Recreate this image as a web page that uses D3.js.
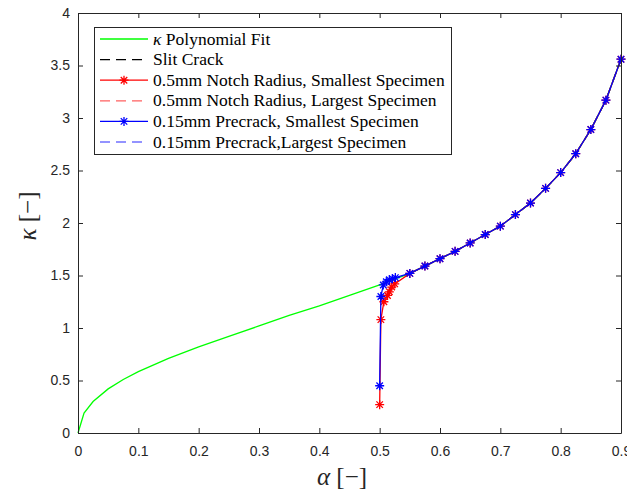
<!DOCTYPE html>
<html>
<head>
<meta charset="utf-8">
<script src="https://cdn.jsdelivr.net/npm/d3@7"></script>
<style>
  body { margin: 0; background: #fff; }
  svg { display: block; }
</style>
</head>
<body>
<div id="chart"></div>
<script>
  // polynomial fit of kappa over alpha
  const fitAlpha = [0, 0.01, 0.025, 0.05, 0.075, 0.1, 0.15, 0.2, 0.25, 0.3, 0.35, 0.4, 0.45, 0.5,
    0.55, 0.575, 0.6, 0.625, 0.65, 0.675, 0.7, 0.725, 0.75, 0.775, 0.8, 0.825, 0.85, 0.875, 0.9];
  const fitKappa = [0, 0.19, 0.30, 0.42, 0.51, 0.585, 0.71, 0.82, 0.92, 1.02, 1.12, 1.21, 1.31, 1.41,
    1.52, 1.59, 1.66, 1.73, 1.81, 1.89, 1.97, 2.08, 2.19, 2.33, 2.48, 2.66, 2.89, 3.17, 3.56];

  // slit crack and the largest specimens sit on the same curve
  const tailAlpha = [0.55, 0.575, 0.6, 0.625, 0.65, 0.675, 0.7, 0.725, 0.75, 0.775, 0.8, 0.825, 0.85, 0.875, 0.9];
  const tailKappa = [1.52, 1.59, 1.66, 1.73, 1.81, 1.89, 1.97, 2.08, 2.19, 2.33, 2.48, 2.66, 2.89, 3.17, 3.56];

  const notchAlpha = [0.5, 0.502, 0.507, 0.513, 0.516, 0.52, 0.525].concat(tailAlpha);
  const notchKappa = [0.27, 1.08, 1.25, 1.31, 1.345, 1.39, 1.42].concat(tailKappa);

  const precrackAlpha = [0.5, 0.502, 0.506, 0.511, 0.516, 0.521, 0.526].concat(tailAlpha);
  const precrackKappa = [0.45, 1.30, 1.41, 1.44, 1.46, 1.47, 1.48].concat(tailKappa);

  const xTicks = [0, 0.1, 0.2, 0.3, 0.4, 0.5, 0.6, 0.7, 0.8, 0.9];
  const yTicks = [0, 0.5, 1, 1.5, 2, 2.5, 3, 3.5, 4];

  const series = [
    {name: 'Slit Crack', a: tailAlpha, k: tailKappa, color: '#000000', dash: '10,6', marker: false},
    {name: '0.5mm Notch Radius, Largest Specimen', a: tailAlpha, k: tailKappa, color: '#ff6060', dash: '10,6', marker: false},
    {name: '0.15mm Precrack,Largest Specimen', a: tailAlpha, k: tailKappa, color: '#7070ff', dash: '10,6', marker: false},
    {name: 'fit', a: fitAlpha, k: fitKappa, color: '#00ff00', dash: null, marker: false},
    {name: '0.5mm Notch Radius, Smallest Specimen', a: notchAlpha, k: notchKappa, color: '#ff0000', dash: null, marker: true},
    {name: '0.15mm Precrack, Smallest Specimen', a: precrackAlpha, k: precrackKappa, color: '#0000ff', dash: null, marker: true},
  ];

  const legendRows = [
    {label: 'Polynomial Fit', kappa: true, color: '#00ff00', dash: null, marker: false},
    {label: 'Slit Crack', color: '#000000', dash: '10,6', marker: false},
    {label: '0.5mm Notch Radius, Smallest Specimen', color: '#ff0000', dash: null, marker: true},
    {label: '0.5mm Notch Radius, Largest Specimen', color: '#ff6060', dash: '10,6', marker: false},
    {label: '0.15mm Precrack, Smallest Specimen', color: '#0000ff', dash: null, marker: true},
    {label: '0.15mm Precrack,Largest Specimen', color: '#7070ff', dash: '10,6', marker: false},
  ];

  const width = 627, height = 493;
  const margins = {top: 13, right: 6, bottom: 60, left: 78};
  const axisColor = '#262626';

  const svg = d3.select('#chart')
    .append('svg')
      .attr('width', width)
      .attr('height', height);

  const xScale = d3.scaleLinear()
    .domain([0, 0.9])
    .range([margins.left, width - margins.right]);

  const yScale = d3.scaleLinear()
    .domain([0, 4])
    .range([height - margins.bottom, margins.top]);

  // matlab style '*' marker
  const star = (cx, cy, r) => {
    const d = r * 0.72;
    return `M${cx - r},${cy}H${cx + r}M${cx},${cy - r}V${cy + r}` +
      `M${cx - d},${cy - d}L${cx + d},${cy + d}M${cx - d},${cy + d}L${cx + d},${cy - d}`;
  };

  const line = d3.line()
    .x(d => xScale(d[0]))
    .y(d => yScale(d[1]));

  const plot = svg.append('g').attr('class', 'lines');

  series.forEach(s => {
    const pts = s.a.map((a, i) => [a, s.k[i]]);
    plot.append('path')
      .datum(pts)
      .attr('d', line)
      .attr('fill', 'none')
      .attr('stroke', s.color)
      .attr('stroke-width', 1.3)
      .attr('stroke-dasharray', s.dash);
    if (s.marker) {
      plot.append('g')
        .selectAll('path')
        .data(pts)
        .join('path')
          .attr('d', d => star(xScale(d[0]), yScale(d[1]), 4.5))
          .attr('fill', 'none')
          .attr('stroke', s.color)
          .attr('stroke-width', 1.3);
    }
  });

  /* axes with inner ticks on all four sides */
  const xAxis = d3.axisBottom(xScale).tickValues(xTicks).tickSizeInner(-5).tickSizeOuter(0)
    .tickPadding(13).tickFormat(d3.format('~g'));
  const yAxis = d3.axisLeft(yScale).tickValues(yTicks).tickSizeInner(-5).tickSizeOuter(0)
    .tickPadding(8).tickFormat(d3.format('~g'));

  svg.append('g')
      .attr('transform', `translate(0, ${height - margins.bottom})`)
    .call(xAxis);
  svg.append('g')
      .attr('transform', `translate(${margins.left}, 0)`)
    .call(yAxis);
  svg.append('g')
      .attr('transform', `translate(0, ${margins.top})`)
    .call(d3.axisTop(xScale).tickValues(xTicks).tickSizeInner(-5).tickSizeOuter(0).tickFormat(''));
  svg.append('g')
      .attr('transform', `translate(${width - margins.right}, 0)`)
    .call(d3.axisRight(yScale).tickValues(yTicks).tickSizeInner(-5).tickSizeOuter(0).tickFormat(''));

  svg.selectAll('.domain, .tick line').attr('stroke', axisColor);
  svg.selectAll('.tick text')
    .attr('fill', axisColor)
    .style('font-family', '"Liberation Sans", Arial, sans-serif')
    .style('font-size', '14px');

  // axis titles
  svg.append('text')
    .attr('x', 342)
    .attr('y', 485)
    .attr('text-anchor', 'middle')
    .style('font-family', '"Liberation Serif", serif')
    .style('font-size', '25px')
    .attr('fill', axisColor)
    .call(t => {
      t.append('tspan').style('font-style', 'italic').text('α');
      t.append('tspan').text(' [−]');
    });

  svg.append('text')
    .attr('transform', 'translate(36, 216) rotate(-90)')
    .attr('text-anchor', 'middle')
    .style('font-family', '"Liberation Serif", serif')
    .style('font-size', '25px')
    .attr('fill', axisColor)
    .call(t => {
      t.append('tspan').style('font-style', 'italic').text('κ');
      t.append('tspan').text(' [−]');
    });

  /* legend box */
  const legend = svg.append('g').attr('class', 'legend');
  legend.append('rect')
    .attr('x', 94.5)
    .attr('y', 27.5)
    .attr('width', 357)
    .attr('height', 127)
    .attr('fill', '#fff')
    .attr('stroke', axisColor)
    .attr('stroke-width', 1);

  legendRows.forEach((r, i) => {
    const y = 39 + i * 20.6;
    legend.append('line')
      .attr('x1', 100).attr('x2', 148)
      .attr('y1', y).attr('y2', y)
      .attr('stroke', r.color)
      .attr('stroke-width', 1.3)
      .attr('stroke-dasharray', r.dash);
    if (r.marker) {
      legend.append('path')
        .attr('d', star(124, y, 4.5))
        .attr('fill', 'none')
        .attr('stroke', r.color)
        .attr('stroke-width', 1.3);
    }
    const txt = legend.append('text')
      .attr('x', 153)
      .attr('y', y + 5.5)
      .style('font-family', '"Liberation Serif", serif')
      .style('font-size', '17.5px')
      .attr('fill', '#000');
    if (r.kappa) {
      txt.append('tspan').style('font-style', 'italic').text('κ');
      txt.append('tspan').text(' ' + r.label);
    } else {
      txt.text(r.label);
    }
  });
</script>
</body>
</html>
